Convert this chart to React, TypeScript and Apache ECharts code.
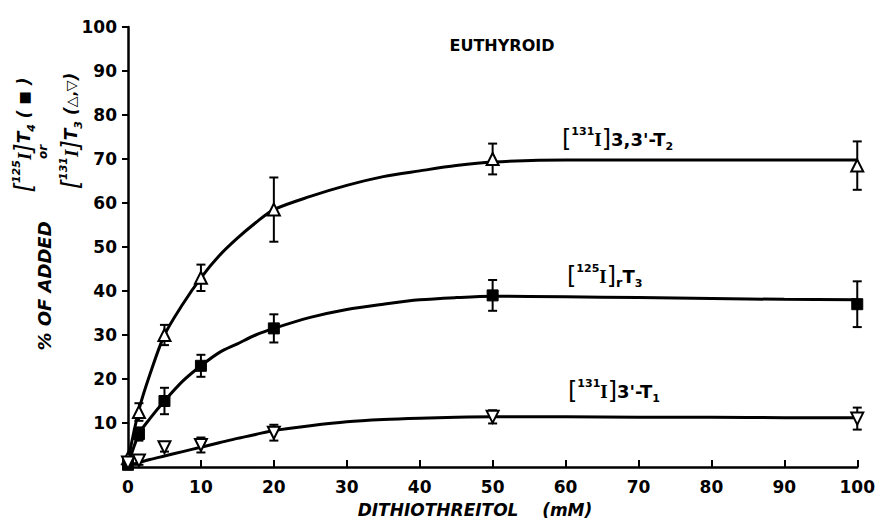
import React, { useEffect, useRef } from "react";
import * as echarts from "echarts";

// ---- data ----
const doses = [0, 1.5, 5, 10, 20, 50, 100];

const t2Values = [2, 12.5, 30, 43, 58.5, 70, 68.5];
const t2Errors = [0, 2, 2.3, 3, 7.3, 3.5, 5.5];

const rt3Values = [0.5, 7.5, 15, 23, 31.5, 39, 37];
const rt3Errors = [0.8, 1.5, 3, 2.5, 3.2, 3.5, 5.2];

const t1Values = [1, 1.5, 4.5, 5, 7.8, 11.4, 11];
const t1Errors = [0, 1, 1, 1.7, 1.8, 1.5, 2.5];

// fitted curves as drawn in the figure
const curveX = [0, 1.5, 3, 5, 7.5, 10, 12.5, 15, 17.5, 20, 25, 30, 35, 40, 45, 50, 60, 70, 80, 90, 100];
const t2Curve = [1.5, 13, 21, 30, 37, 43, 48, 52, 55.5, 58.5, 61.5, 64, 66, 67.3, 68.5, 69.3, 69.8, 69.8, 69.8, 69.8, 69.8];
const rt3Curve = [0.5, 7.5, 11, 15, 19.5, 23, 26, 28, 30, 31.5, 34, 35.8, 37, 38, 38.5, 38.8, 38.7, 38.5, 38.3, 38.1, 38];
const t1Curve = [0.3, 1, 1.7, 2.5, 3.5, 4.5, 5.5, 6.5, 7.4, 8.3, 9.4, 10.3, 10.8, 11.1, 11.3, 11.4, 11.4, 11.3, 11.3, 11.2, 11.2];

const xTicks = [0, 10, 20, 30, 40, 50, 60, 70, 80, 90, 100];
const yTicks = [0, 10, 20, 30, 40, 50, 60, 70, 80, 90, 100];

const FONT = '"DejaVu Sans", sans-serif';

const pairs = (xs: number[], ys: number[]) => xs.map((x, i) => [x, ys[i]]);
const bars = (xs: number[], ys: number[], es: number[]) =>
  xs.map((x, i) => [x, ys[i] - es[i], ys[i] + es[i], es[i]]);

const errorSeries = (data: number[][]) => ({
  type: "custom",
  data,
  encode: { x: 0, y: [1, 2] },
  z: 3,
  silent: true,
  renderItem: (params: any, api: any) => {
    const x = api.value(0);
    const lo = api.value(1);
    const hi = api.value(2);
    const e = api.value(3);
    if (!e) return { type: "group", children: [] };
    const top = api.coord([x, hi]);
    const bot = api.coord([x, lo]);
    const hw = 4.5;
    const st = { stroke: "#000", lineWidth: 2 };
    return {
      type: "group",
      children: [
        { type: "line", shape: { x1: top[0], y1: top[1], x2: bot[0], y2: bot[1] }, style: st },
        { type: "line", shape: { x1: top[0] - hw, y1: top[1], x2: top[0] + hw, y2: top[1] }, style: st },
        { type: "line", shape: { x1: bot[0] - hw, y1: bot[1], x2: bot[0] + hw, y2: bot[1] }, style: st },
      ],
    };
  },
});

const curveSeries = (ys: number[]) => ({
  type: "line",
  data: pairs(curveX, ys),
  smooth: 0.3,
  showSymbol: false,
  symbol: "none",
  lineStyle: { color: "#000", width: 3 },
  z: 2,
  silent: true,
});

const richBase = {
  b: { fontFamily: FONT, fontSize: 24, fontWeight: "normal", lineHeight: 26, fill: "#000" },
  sup: { fontFamily: FONT, fontSize: 11, fontWeight: "bold", verticalAlign: "top", lineHeight: 12, fill: "#000" },
  sub: { fontFamily: FONT, fontSize: 11, fontWeight: "bold", verticalAlign: "bottom", lineHeight: 12, fill: "#000" },
  i: { fontFamily: '"Liberation Serif", serif', fontSize: 19, fontWeight: "bold", lineHeight: 26, fill: "#000" },
  n: { fontFamily: FONT, fontSize: 18, fontWeight: "bold", lineHeight: 26, fill: "#000" },
  r: { fontFamily: FONT, fontSize: 13, fontWeight: "bold", verticalAlign: "bottom", lineHeight: 19, fill: "#000" },
};

const richItalic = {
  b: { ...richBase.b, fontStyle: "italic", fontSize: 24 },
  sup: { ...richBase.sup, fontStyle: "italic", fontSize: 11 },
  sub: { ...richBase.sub, fontStyle: "italic", fontSize: 11 },
  i: { ...richBase.i, fontStyle: "italic", fontSize: 19 },
  n: { ...richBase.n, fontStyle: "italic", fontSize: 17 },
  s: { fontFamily: FONT, fontSize: 14, fontWeight: "bold", lineHeight: 26, fill: "#000" },
};

const seriesLabel = (x: number, y: number, text: string) => ({
  type: "text",
  x,
  y,
  style: { text, rich: richBase, align: "left", verticalAlign: "middle", fill: "#000" },
  silent: true,
});

const rotText = (x: number, y: number, style: any) => ({
  type: "text",
  x,
  y,
  rotation: Math.PI / 2,
  style: { align: "center", verticalAlign: "middle", fill: "#000", ...style },
  silent: true,
});

export default function App() {
  const ref = useRef<HTMLDivElement>(null);

  useEffect(() => {
    if (!ref.current) return;
    const chart = echarts.init(ref.current, undefined, { renderer: "svg" });
    chart.setOption({
      animation: false,
      backgroundColor: "#fff",
      grid: { left: 128, right: 12, top: 27, bottom: 56, containLabel: false },
      xAxis: {
        type: "value",
        min: xTicks[0],
        max: xTicks[xTicks.length - 1],
        interval: 10,
        axisLine: { show: true, lineStyle: { color: "#000", width: 2.5 } },
        axisTick: { show: true, inside: true, length: 7, lineStyle: { color: "#000", width: 2 } },
        axisLabel: { color: "#000", fontFamily: FONT, fontWeight: "bold", fontSize: 17, margin: 11 },
        splitLine: { show: false },
      },
      yAxis: {
        type: "value",
        min: yTicks[0],
        max: yTicks[yTicks.length - 1],
        interval: 10,
        axisLine: { show: true, lineStyle: { color: "#000", width: 2.5 } },
        axisTick: { show: true, inside: false, length: 6, lineStyle: { color: "#000", width: 2 } },
        axisLabel: {
          color: "#000",
          fontFamily: FONT,
          fontWeight: "bold",
          fontSize: 17,
          margin: 11,
          showMinLabel: false,
        },
        splitLine: { show: false },
      },
      series: [
        curveSeries(t2Curve),
        curveSeries(rt3Curve),
        curveSeries(t1Curve),
        errorSeries(bars(doses, t2Values, t2Errors)),
        errorSeries(bars(doses, rt3Values, rt3Errors)),
        errorSeries(bars(doses, t1Values, t1Errors)),
        {
          type: "scatter",
          name: "3,3'-T2",
          data: pairs(doses, t2Values),
          symbol: "triangle",
          symbolSize: 12,
          itemStyle: { color: "#fff", borderColor: "#000", borderWidth: 2, opacity: 1 },
          z: 5,
        },
        {
          type: "scatter",
          name: "rT3",
          data: pairs(doses, rt3Values),
          symbol: "rect",
          symbolSize: 11,
          itemStyle: { color: "#000", borderColor: "#000", borderWidth: 1, opacity: 1 },
          z: 5,
        },
        {
          type: "scatter",
          name: "3'-T1",
          data: pairs(doses, t1Values),
          symbol: "triangle",
          symbolRotate: 180,
          symbolSize: 12,
          itemStyle: { color: "#fff", borderColor: "#000", borderWidth: 2, opacity: 1 },
          z: 5,
        },
      ],
      graphic: [
        {
          type: "text",
          x: 502,
          y: 45,
          style: {
            text: "EUTHYROID",
            font: `bold 16px ${FONT}`,
            fill: "#000",
            align: "center",
            verticalAlign: "middle",
          },
          silent: true,
        },
        {
          type: "text",
          x: 475,
          y: 510,
          style: {
            text: "DITHIOTHREITOL    (mM)",
            font: `italic bold 17px ${FONT}`,
            fill: "#000",
            align: "center",
            verticalAlign: "middle",
          },
          silent: true,
        },
        seriesLabel(562, 139, "{b|[}{sup|131}{i|I}{b|]}{n|3,3'-T}{sub|2}"),
        seriesLabel(567, 276, "{b|[}{sup|125}{i|I}{b|]}{r|r}{n|T}{sub|3}"),
        seriesLabel(568, 391, "{b|[}{sup|131}{i|I}{b|]}{n|3'-T}{sub|1}"),
        rotText(44, 286, { text: "% OF ADDED", font: `italic bold 18px ${FONT}` }),
        rotText(24, 135, {
          text: "{b|[}{sup|125}{i|I}{b|]}{n|T}{sub|4}{n| ( }{s|■}{n| )}",
          rich: richItalic,
        }),
        rotText(43, 152, { text: "or", font: `italic bold 12px ${FONT}` }),
        rotText(71, 131, {
          text: "{b|[}{sup|131}{i|I}{b|]}{n|T}{sub|3}{n| (}{s|△,▽}{n|)}",
          rich: richItalic,
        }),
      ],
    });
    return () => chart.dispose();
  }, []);

  return (
    <div
      ref={ref}
      style={{ position: "absolute", left: 0, top: 0, width: 878, height: 523, background: "#fff" }}
    />
  );
}
